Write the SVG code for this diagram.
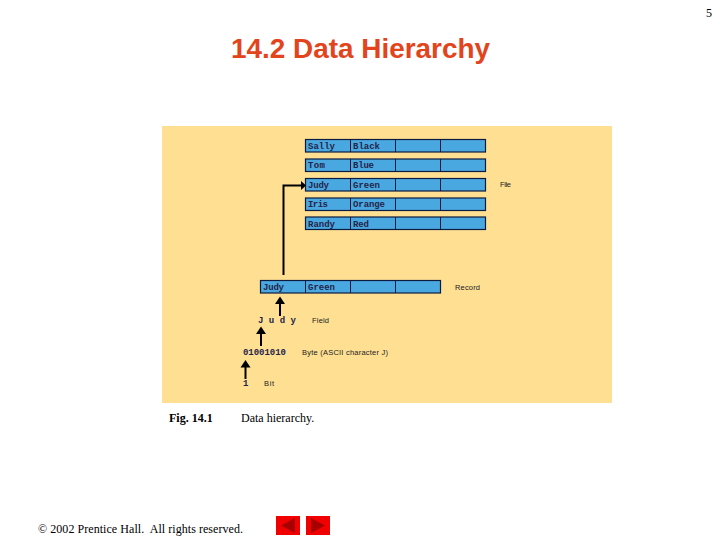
<svg xmlns="http://www.w3.org/2000/svg" width="720" height="540" viewBox="0 0 720 540">
<style>
.m{font-family:"Liberation Mono",monospace;font-size:9px;font-weight:700;fill:#24244a}
.s{font-family:"Liberation Sans",Arial,sans-serif;font-size:7.5px;fill:#222}
.t{font-family:"Liberation Serif","Times New Roman",serif;font-size:12px;fill:#000}
.c{fill:#4aa8e0;stroke:#0c1c40;stroke-width:1.2}
.w{fill:none;stroke:#000;stroke-width:2}
.h{fill:#000}
.b{fill:#f00000}
.a{fill:#a80000}
</style>
<rect width="720" height="540" fill="#fff"/>
<text x="706" y="17" class="t">5</text>
<text id="title" x="360.500" y="58" text-anchor="middle" font-family="'Liberation Sans',Arial,sans-serif" font-weight="700" font-size="28" textLength="259" lengthAdjust="spacingAndGlyphs" fill="#e2441c">14.2 Data Hierarchy</text>
<rect id="panel" x="162" y="126" width="450" height="277" fill="#ffdf92"/>
<defs>
<g id="cells"><rect class="c" width="180" height="12.500"/><path d="M45 0V12.500M90 0V12.500M135 0V12.500" fill="none" stroke="#0c1c40" stroke-width="1"/></g>
</defs>
<g id="row-sally"><use href="#cells" x="305.500" y="139.500"/><text class="m" x="308" y="149" textLength="27">Sally</text><text class="m" x="353" y="149" textLength="27">Black</text></g>
<g id="row-tom"><use href="#cells" x="305.500" y="159"/><text class="m" x="308" y="168" textLength="17">Tom</text><text class="m" x="353" y="168" textLength="21">Blue</text></g>
<g id="row-judy"><use href="#cells" x="305.500" y="178.500"/><text class="m" x="308" y="187.500" textLength="21">Judy</text><text class="m" x="353" y="187.500" textLength="27">Green</text></g>
<g id="row-iris"><use href="#cells" x="305.500" y="198"/><text class="m" x="308" y="207" textLength="20">Iris</text><text class="m" x="353" y="207" textLength="32">Orange</text></g>
<g id="row-randy"><use href="#cells" x="305.500" y="217"/><text class="m" x="308" y="226.500" textLength="27">Randy</text><text class="m" x="353" y="226.500" textLength="16">Red</text></g>
<g id="record"><use href="#cells" x="260.500" y="280.500"/><text class="m" x="263" y="290" textLength="21">Judy</text><text class="m" x="308" y="290" textLength="27">Green</text></g>
<g id="connectors">
<path class="w" d="M283.500 275V185.500H302"/><path class="h" d="M306 185.500L301 181V190Z"/>
<path class="w" d="M280 316V302"/><path class="h" d="M280 296.500L275 304H285Z"/>
<path class="w" d="M261 346V332"/><path class="h" d="M261 326.500L256 334H266Z"/>
<path class="w" d="M245.500 379V365"/><path class="h" d="M245.500 360L240.500 367.500H250.500Z"/>
</g>
<g id="labels">
<text class="s" x="500" y="187" textLength="11">File</text>
<text class="s" x="455" y="290" textLength="25">Record</text>
<text class="m" x="258" y="323" textLength="38">J u d y</text>
<text class="s" x="312" y="323" textLength="17">Field</text>
<text class="m" x="243" y="355" textLength="43">01001010</text>
<text class="s" x="302" y="355" textLength="86">Byte (ASCII character J)</text>
<text class="m" x="243" y="386">1</text>
<text class="s" x="264" y="386" textLength="10">Bit</text>
</g>
<text id="fig" x="169" y="422" class="t" font-weight="700">Fig. 14.1</text>
<text id="caption" x="241" y="422" class="t">Data hierarchy.</text>
<text id="footer" x="38" y="533" class="t" xml:space="preserve" textLength="205">© 2002 Prentice Hall.  All rights reserved.</text>
<g id="prev"><rect class="b" x="276" y="516" width="24" height="19"/><path class="a" d="M281 525.500L295 518V533Z"/></g>
<g id="next"><rect class="b" x="306" y="516" width="24" height="19"/><path class="a" d="M325 525.500L311 518V533Z"/></g>
</svg>
